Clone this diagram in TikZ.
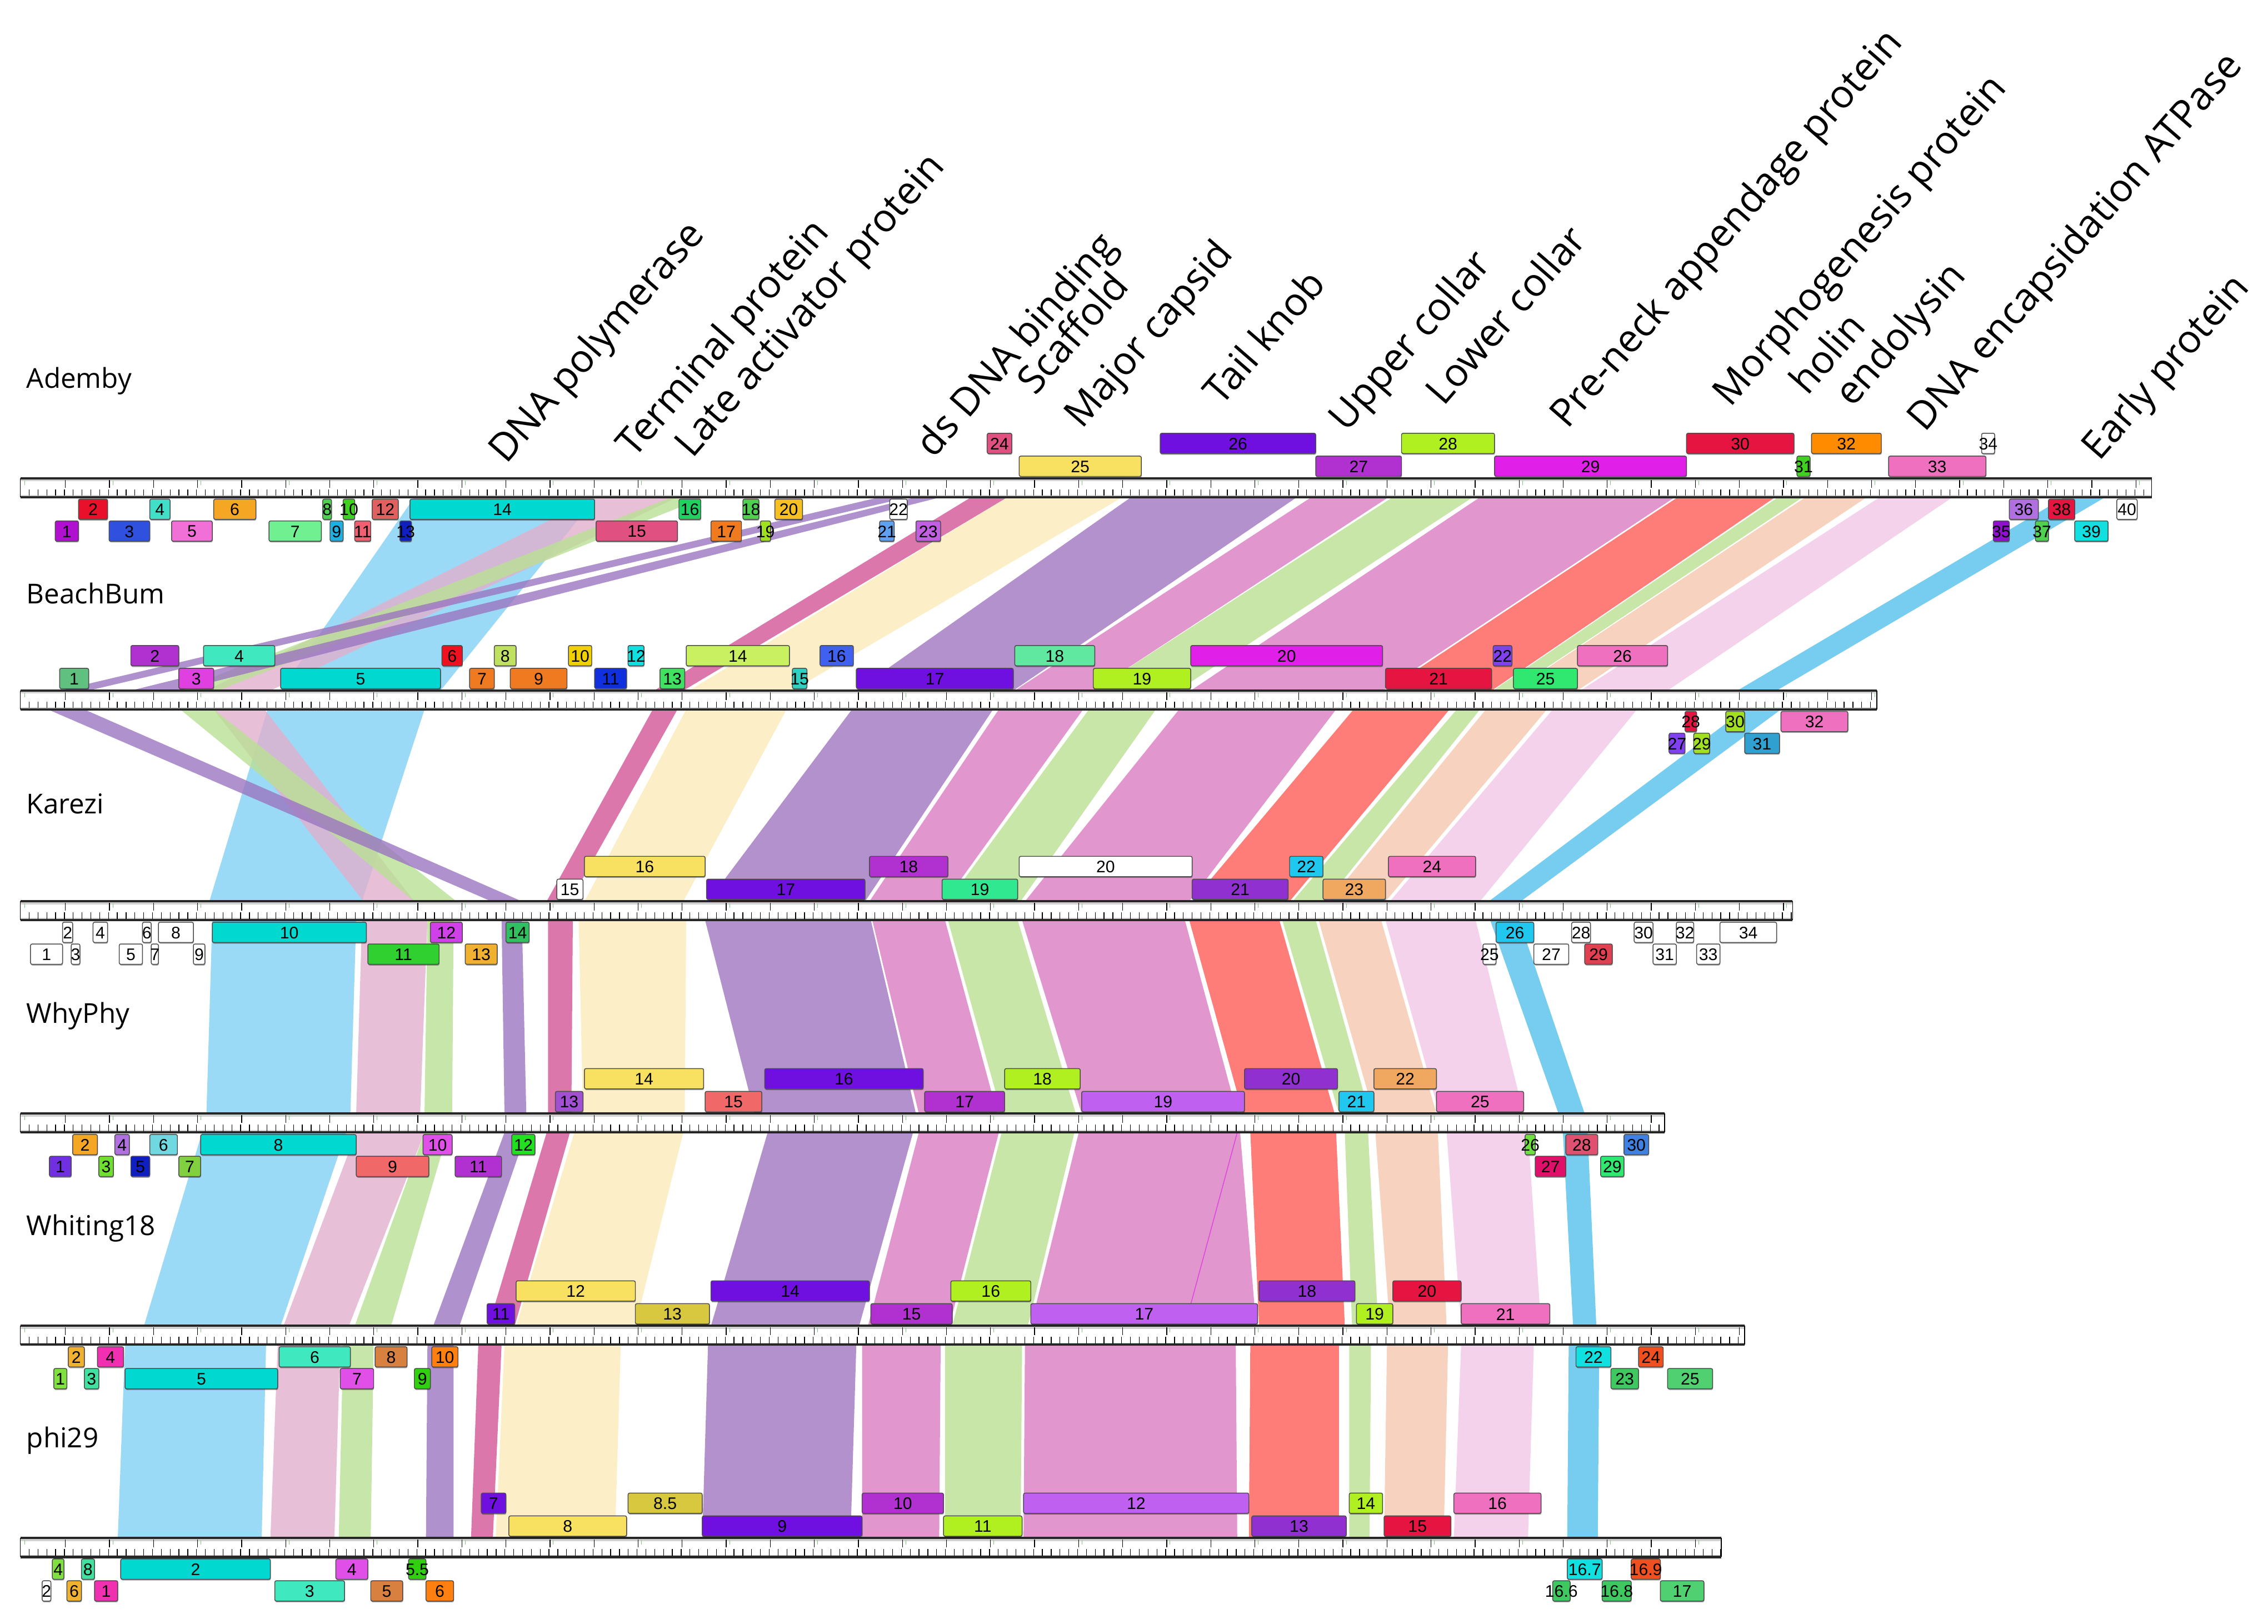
\documentclass[tikz,border=0pt]{standalone}
\usepackage{fontspec}
\usetikzlibrary{shadows}
\setmainfont{Open Sans}
\newfontfamily\numfont{Liberation Sans}
\definecolor{gRed}{HTML}{E8102A}\definecolor{gCrim}{HTML}{E51440}
\definecolor{gTurq}{HTML}{40E0C8}\definecolor{gAqua}{HTML}{40E8C0}
\definecolor{gOrange}{HTML}{F5A623}\definecolor{gOrg2}{HTML}{F07A20}
\definecolor{gOrg3}{HTML}{FF8010}\definecolor{gOrg4}{HTML}{FF8C00}
\definecolor{gGreen}{HTML}{50D050}\definecolor{gGreen2}{HTML}{40D020}
\definecolor{gGreen3}{HTML}{20D060}\definecolor{gLime}{HTML}{B0F020}
\definecolor{gLime2}{HTML}{A0E020}\definecolor{gLimeL}{HTML}{C8F060}
\definecolor{gMint}{HTML}{60E8A0}\definecolor{gMintG}{HTML}{30E890}
\definecolor{gSalmon}{HTML}{E06060}\definecolor{gSalmonW}{HTML}{F06868}
\definecolor{gCyan}{HTML}{00D8D0}\definecolor{gCyanB}{HTML}{10E0E0}
\definecolor{gCyanW}{HTML}{70D8E0}\definecolor{gPink}{HTML}{F070C0}
\definecolor{gPinkL}{HTML}{F070D8}\definecolor{gPinkRed}{HTML}{E05080}
\definecolor{gPinkW}{HTML}{E05070}\definecolor{gDPink}{HTML}{E0106A}
\definecolor{gMagP}{HTML}{F030B0}\definecolor{gYellow}{HTML}{F8E060}
\definecolor{gGold}{HTML}{F5C020}\definecolor{gGoldY}{HTML}{F0D000}
\definecolor{gGoldO}{HTML}{F0B030}\definecolor{gViolet}{HTML}{7010E0}
\definecolor{gVio2}{HTML}{8040F0}\definecolor{gVioW}{HTML}{7030E0}
\definecolor{gPurple}{HTML}{B030D0}\definecolor{gPurple2}{HTML}{9030D0}
\definecolor{gPurM}{HTML}{B010D0}\definecolor{gPurM2}{HTML}{9010D0}
\definecolor{gPurW}{HTML}{A050D0}\definecolor{gMagenta}{HTML}{E020E8}
\definecolor{gMagL}{HTML}{E040E0}\definecolor{gMagD}{HTML}{D040E8}
\definecolor{gMagW}{HTML}{E050E8}\definecolor{gLilac}{HTML}{C060F0}
\definecolor{gLav}{HTML}{B070E0}\definecolor{gLav2}{HTML}{C060E0}
\definecolor{gBlue}{HTML}{3050E0}\definecolor{gBlueM}{HTML}{4060F0}
\definecolor{gBlueD}{HTML}{1030E0}\definecolor{gDBlue}{HTML}{1020C0}
\definecolor{gBlueW}{HTML}{4080E0}\definecolor{gSky}{HTML}{20C8F0}
\definecolor{gSkyB}{HTML}{20B0E0}\definecolor{gLBlue}{HTML}{60A0F0}
\definecolor{gSteel}{HTML}{30A0D0}\definecolor{gOlive}{HTML}{D8C840}
\definecolor{gOliveG}{HTML}{C0E060}\definecolor{gTan}{HTML}{D88040}
\definecolor{gPeachOr}{HTML}{F0A860}\definecolor{gLGreen}{HTML}{70F090}
\definecolor{gGreenS}{HTML}{60C080}\definecolor{gGreenL}{HTML}{40E060}
\definecolor{gGreenM}{HTML}{30E870}\definecolor{gGreenK}{HTML}{30C060}
\definecolor{gGreenK2}{HTML}{30D030}\definecolor{gGreenW}{HTML}{20E020}
\definecolor{gGreenW2}{HTML}{70E040}\definecolor{gGreenW3}{HTML}{70E030}
\definecolor{gGreenW4}{HTML}{80D040}\definecolor{gGreenH}{HTML}{30D010}
\definecolor{gGreenH2}{HTML}{40C860}\definecolor{gGreenH3}{HTML}{50D070}
\definecolor{gLimeH}{HTML}{80E040}\definecolor{gAquaH}{HTML}{40E0A0}
\definecolor{gRedB}{HTML}{F01020}\definecolor{gRedK}{HTML}{E04050}
\definecolor{gSalmon2}{HTML}{F06070}\definecolor{gTurq2}{HTML}{30D0C0}
\definecolor{gOrRed}{HTML}{F05020}
% band colours
\definecolor{cBlue}{HTML}{82D1F4}\definecolor{cTerm}{HTML}{E2B0CE}
\definecolor{cLate}{HTML}{BAE095}\definecolor{cDs}{HTML}{9B76C1}
\definecolor{cScaf}{HTML}{D35695}\definecolor{cCaps}{HTML}{FCECBA}
\definecolor{cTail}{HTML}{A176C1}\definecolor{cUp}{HTML}{DA7CC1}
\definecolor{cLow}{HTML}{BAE093}\definecolor{cPre}{HTML}{DA7CC1}
\definecolor{cMorph}{HTML}{FF5D57}\definecolor{cHol}{HTML}{BAE093}
\definecolor{cEndo}{HTML}{F6C7AE}\definecolor{cAtp}{HTML}{F2C7E6}
\definecolor{cEarly}{HTML}{56C1EC}
\tikzset{
  genebox/.style={draw=black!70, line width=0.4pt, rounded corners=0.8pt,
    drop shadow={shadow xshift=0.2pt, shadow yshift=-0.6pt, fill=black, opacity=0.35}},
  genelabel/.style={font=\numfont\fontsize{8.2}{9}\selectfont, inner sep=0pt, text=black},
  bandop/.style={fill opacity=0.8},
  rtick/.style={line width=0.35pt, black},
  gtick/.style={line width=0.3pt, green!55!black!50},
  toplabel/.style={anchor=base west, rotate=49, font=\fontsize{19}{23}\selectfont, inner sep=0pt},
  gname/.style={anchor=west, font=\fontsize{13.4}{16}\selectfont, inner sep=0pt},
}
\def\Utwo{(-31)}\def\Uone{(-15.3)}\def\Lone{(14.3)}\def\Ltwo{(29.3)}
\newcommand\gbox[6]{%
  \filldraw[genebox,fill=#5] (#2,{\Rt+#4}) rectangle (#3,{\Rt+#4+14});
  \node[genelabel] (#1) at ({(#2+#3)/2},{\Rt+#4+7.3}) {#6};}
\newcommand\band[5]{\fill[#1,bandop] (#2,\ya) -- (#3,\ya) -- (#5,\yb) -- (#4,\yb) -- cycle;}
\newcommand\gruler[2]{%
  \fill[white] (14,#1) rectangle (#2,{#1+13});
  \fill[black!18] (14,{#1+0.5}) rectangle (#2,{#1+2});
  \fill[black!18] (14,{#1+11.5}) rectangle (#2,{#1+12.5});
  \foreach \x in {14,20.06,...,#2} {\draw[rtick] (\x,{#1+7.5}) -- (\x,{#1+12});}
  \foreach \x in {45,75.3,...,#2} {\draw[rtick] (\x,{#1+1}) -- (\x,{#1+6.5});}
  \foreach \x in {17,77.6,...,#2} {\draw[gtick] (\x,{#1+1.5}) -- (\x,{#1+4.5});}
  \draw[line width=1.1pt, black!85] (14,#1) -- (#2,#1);
  \draw[line width=1.1pt, black!85] (14,{#1+13}) -- (#2,{#1+13});
  \draw[line width=0.4pt] (14,#1) -- (14,{#1+13});
  \draw[line width=0.4pt] (#2,#1) -- (#2,{#1+13});}
\begin{document}
\begin{tikzpicture}[x=0.025cm,y=-0.025cm]
\useasboundingbox (0,0) rectangle (1560,1116.7);
\fill[white] (0,0) rectangle (1560,1116.7);
% ---------------- bands: Ademby -> BeachBum
\def\ya{342}\def\yb{475}
\band{cBlue}{285}{410}{193}{303}
\band{cTerm}{410}{466}{142}{186}
\band{cLate}{462}{485}{123}{150}
\band{cDs}{605}{625}{41}{61}
\band{cDs}{630}{647}{90}{123}
\band{cScaf}{668}{693}{450}{470}
\band{cCaps}{693}{772}{474}{545}
\band{cTail}{778}{892}{589}{697}
\band{cUp}{902}{955}{698}{752}
\band{cLow}{958}{1013}{752}{810}
\band{cPre}{1018}{1152}{819}{951}
\band{cMorph}{1154}{1221}{953}{1026}
\band{cHol}{1223}{1240}{1027}{1040}
\band{cEndo}{1242}{1284}{1041}{1085}
\band{cAtp}{1293}{1343}{1087}{1147}
\band{cEarly}{1420}{1448}{1195}{1222}
% ---------------- BeachBum -> Karezi
\def\ya{488}\def\yb{620}
\band{cBlue}{184}{292}{144}{249}
\band{cTerm}{147}{182}{250}{285}
\band{cLate}{124}{147}{285}{314}
\band{cDs}{33}{58}{338}{359}
\band{cScaf}{449}{466}{376}{392}
\band{cCaps}{472}{541}{402}{470}
\band{cTail}{586}{683}{487}{595}
\band{cUp}{687}{745}{598}{650}
\band{cLow}{749}{795}{652}{702}
\band{cPre}{811}{919}{705}{818}
\band{cMorph}{931}{997}{820}{887}
\band{cHol}{1002}{1018}{889}{912}
\band{cEndo}{1022}{1064}{914}{953}
\band{cAtp}{1068}{1126}{956}{1018}
\band{cEarly}{1200}{1225}{1024}{1046}
% ---------------- Karezi -> WhyPhy
\def\ya{633}\def\yb{766}
\band{cBlue}{146}{245}{142}{241}
\band{cTerm}{249}{294}{245}{289}
\band{cLate}{294}{312}{292}{311}
\band{cDs}{345}{359}{347}{362}
\band{cScaf}{377}{394}{377}{393}
\band{cCaps}{398}{472}{401}{471}
\band{cTail}{485}{599}{519}{630}
\band{cUp}{600}{650}{632}{686}
\band{cLow}{652}{700}{689}{740}
\band{cPre}{703}{815}{744}{851}
\band{cMorph}{818}{880}{855}{918}
\band{cHol}{882}{905}{921}{942}
\band{cEndo}{907}{950}{945}{988}
\band{cAtp}{953}{1015}{990}{1048}
\band{cEarly}{1025}{1045}{1072}{1090}
% ---------------- WhyPhy -> Whiting18
\def\ya{779}\def\yb{912}
\band{cBlue}{139}{238}{99}{193}
\band{cTerm}{245}{292}{195}{240}
\band{cLate}{292}{308}{244}{269}
\band{cDs}{347}{362}{298}{316}
\band{cScaf}{376}{392}{336}{354}
\band{cCaps}{395}{470}{355}{437}
\band{cTail}{528}{628}{489}{591}
\band{cUp}{632}{687}{597}{653}
\band{cLow}{689}{739}{655}{707}
\band{cPre}{742}{853}{709}{864}
\band{cMorph}{860}{919}{866}{925}
\band{cHol}{925}{941}{930}{948}
\band{cEndo}{946}{989}{956}{995}
\band{cAtp}{995}{1051}{1005}{1060}
\band{cEarly}{1075}{1092}{1082}{1098}
\draw[gMagenta, line width=0.4pt, opacity=0.7] (851,779) -- (815,912);
% ---------------- Whiting18 -> phi29
\def\ya{925}\def\yb{1058}
\band{cBlue}{86}{183}{81}{180}
\band{cTerm}{191}{234}{186}{230}
\band{cLate}{236}{257}{233}{255}
\band{cDs}{294}{312}{293}{312}
\band{cScaf}{329}{345}{324}{339}
\band{cCaps}{347}{427}{341}{423}
\band{cTail}{487}{589}{483}{585}
\band{cUp}{593}{647}{593}{646}
\band{cLow}{650}{703}{650}{702}
\band{cPre}{705}{850}{704}{851}
\band{cMorph}{860}{921}{859}{921}
\band{cHol}{928}{943}{928}{942}
\band{cEndo}{954}{996}{952}{993}
\band{cAtp}{1005}{1055}{1000}{1051}
\band{cEarly}{1079}{1100}{1078}{1099}
% ---------------- rulers
\gruler{329}{1480}
\gruler{475}{1291}
\gruler{620}{1233}
\gruler{766}{1145}
\gruler{912}{1200}
\gruler{1058}{1184}
% ---------------- genome names
\node[gname] (nA) at (18,262) {Ademby};
\node[gname] (nB) at (18,408) {BeachBum};
\node[gname] (nK) at (18,553) {Karezi};
\node[gname] (nW) at (18,699) {WhyPhy};
\node[gname] (nH) at (18,845) {Whiting18};
\node[gname] (nP) at (18,991) {phi29};
% ---------------- Ademby genes
\def\Rt{329}
\gbox{A1}{38}{54}{\Ltwo}{gPurM}{1}
\gbox{A3}{75}{103}{\Ltwo}{gBlue}{3}
\gbox{A5}{118}{146}{\Ltwo}{gPinkL}{5}
\gbox{A7}{185}{221}{\Ltwo}{gLGreen}{7}
\gbox{A9}{227}{236}{\Ltwo}{gSkyB}{9}
\gbox{A11}{244}{255}{\Ltwo}{gSalmon2}{11}
\gbox{A13}{275}{283}{\Ltwo}{gDBlue}{13}
\gbox{A15}{410}{466}{\Ltwo}{gPinkRed}{15}
\gbox{A17}{489}{510}{\Ltwo}{gOrg2}{17}
\gbox{A19}{523}{530}{\Ltwo}{gLime2}{19}
\gbox{A21}{605}{615}{\Ltwo}{gLBlue}{21}
\gbox{A23}{630}{647}{\Ltwo}{gLav2}{23}
\gbox{A35}{1371}{1382}{\Ltwo}{gPurM2}{35}
\gbox{A37}{1400}{1409}{\Ltwo}{gGreen}{37}
\gbox{A39}{1427}{1450}{\Ltwo}{gCyanB}{39}
\gbox{A2}{54}{74}{\Lone}{gRed}{2}
\gbox{A4}{103}{117}{\Lone}{gTurq}{4}
\gbox{A6}{147}{176}{\Lone}{gOrange}{6}
\gbox{A8}{222}{228}{\Lone}{gGreen}{8}
\gbox{A10}{236}{244}{\Lone}{gGreen2}{10}
\gbox{A12}{256}{274}{\Lone}{gSalmon}{12}
\gbox{A14}{282}{409}{\Lone}{gCyan}{14}
\gbox{A16}{467}{482}{\Lone}{gGreen3}{16}
\gbox{A18}{511}{522}{\Lone}{gGreen}{18}
\gbox{A20}{533}{552}{\Lone}{gGold}{20}
\gbox{A22}{612}{624}{\Lone}{white}{22}
\gbox{A36}{1382}{1402}{\Lone}{gLav}{36}
\gbox{A38}{1409}{1427}{\Lone}{gCrim}{38}
\gbox{A40}{1456}{1470}{\Lone}{white}{40}
\gbox{A24}{679}{696}{\Utwo}{gPinkRed}{24}
\gbox{A26}{798}{905}{\Utwo}{gViolet}{26}
\gbox{A28}{964}{1028}{\Utwo}{gLime}{28}
\gbox{A30}{1160}{1234}{\Utwo}{gCrim}{30}
\gbox{A32}{1246}{1294}{\Utwo}{gOrg4}{32}
\gbox{A34}{1363}{1372}{\Utwo}{white}{34}
\gbox{A25}{701}{785}{\Uone}{gYellow}{25}
\gbox{A27}{905}{964}{\Uone}{gPurple}{27}
\gbox{A29}{1028}{1160}{\Uone}{gMagenta}{29}
\gbox{A31}{1236}{1245}{\Uone}{gGreen2}{31}
\gbox{A33}{1299}{1366}{\Uone}{gPink}{33}
% ---------------- BeachBum genes
\def\Rt{475}
\gbox{B2}{90}{123}{\Utwo}{gPurple}{2}
\gbox{B4}{140}{189}{\Utwo}{gAqua}{4}
\gbox{B6}{304}{318}{\Utwo}{gRedB}{6}
\gbox{B8}{340}{355}{\Utwo}{gOliveG}{8}
\gbox{B10}{391}{407}{\Utwo}{gGoldY}{10}
\gbox{B12}{432}{443}{\Utwo}{gCyanB}{12}
\gbox{B14}{472}{543}{\Utwo}{gLimeL}{14}
\gbox{B16}{564}{587}{\Utwo}{gBlueM}{16}
\gbox{B18}{698}{753}{\Utwo}{gMint}{18}
\gbox{B20}{819}{951}{\Utwo}{gMagenta}{20}
\gbox{B22}{1027}{1040}{\Utwo}{gVio2}{22}
\gbox{B26}{1085}{1147}{\Utwo}{gPink}{26}
\gbox{B1}{41}{61}{\Uone}{gGreenS}{1}
\gbox{B3}{123}{147}{\Uone}{gMagL}{3}
\gbox{B5}{193}{303}{\Uone}{gCyan}{5}
\gbox{B7}{323}{340}{\Uone}{gOrg2}{7}
\gbox{B9}{351}{390}{\Uone}{gOrg2}{9}
\gbox{B11}{409}{431}{\Uone}{gBlueD}{11}
\gbox{B13}{454}{471}{\Uone}{gGreenL}{13}
\gbox{B15}{545}{555}{\Uone}{gTurq2}{15}
\gbox{B17}{589}{697}{\Uone}{gViolet}{17}
\gbox{B19}{752}{819}{\Uone}{gLime}{19}
\gbox{B21}{953}{1026}{\Uone}{gCrim}{21}
\gbox{B25}{1041}{1085}{\Uone}{gGreenM}{25}
\gbox{B28}{1159}{1167}{\Lone}{gCrim}{28}
\gbox{B30}{1187}{1200}{\Lone}{gLime2}{30}
\gbox{B32}{1225}{1271}{\Lone}{gPink}{32}
\gbox{B27}{1148}{1159}{\Ltwo}{gVio2}{27}
\gbox{B29}{1165}{1176}{\Ltwo}{gLime2}{29}
\gbox{B31}{1200}{1224}{\Ltwo}{gSteel}{31}
% ---------------- Karezi genes
\def\Rt{620}
\gbox{K16}{402}{485}{\Utwo}{gYellow}{16}
\gbox{K18}{598}{652}{\Utwo}{gPurple}{18}
\gbox{K20}{701}{820}{\Utwo}{white}{20}
\gbox{K22}{887}{910}{\Utwo}{gSky}{22}
\gbox{K24}{955}{1015}{\Utwo}{gPink}{24}
\gbox{K15}{383}{401}{\Uone}{white}{15}
\gbox{K17}{486}{595}{\Uone}{gViolet}{17}
\gbox{K19}{648}{700}{\Uone}{gMintG}{19}
\gbox{K21}{820}{886}{\Uone}{gPurple2}{21}
\gbox{K23}{910}{953}{\Uone}{gPeachOr}{23}
\gbox{K2}{43}{50}{\Lone}{white}{2}
\gbox{K4}{64}{74}{\Lone}{white}{4}
\gbox{K6}{98}{104}{\Lone}{white}{6}
\gbox{K8}{109}{133}{\Lone}{white}{8}
\gbox{K10}{146}{252}{\Lone}{gCyan}{10}
\gbox{K12}{296}{318}{\Lone}{gMagD}{12}
\gbox{K14}{348}{364}{\Lone}{gGreenK}{14}
\gbox{K26}{1029}{1055}{\Lone}{gSky}{26}
\gbox{K28}{1081}{1094}{\Lone}{white}{28}
\gbox{K30}{1124}{1137}{\Lone}{white}{30}
\gbox{K32}{1153}{1165}{\Lone}{white}{32}
\gbox{K34}{1183}{1222}{\Lone}{white}{34}
\gbox{K1}{21}{43}{\Ltwo}{white}{1}
\gbox{K3}{49}{55}{\Ltwo}{white}{3}
\gbox{K5}{82}{98}{\Ltwo}{white}{5}
\gbox{K7}{104}{109}{\Ltwo}{white}{7}
\gbox{K9}{133}{141}{\Ltwo}{white}{9}
\gbox{K11}{253}{302}{\Ltwo}{gGreenK2}{11}
\gbox{K13}{320}{342}{\Ltwo}{gGoldO}{13}
\gbox{K25}{1020}{1029}{\Ltwo}{white}{25}
\gbox{K27}{1055}{1079}{\Ltwo}{white}{27}
\gbox{K29}{1090}{1109}{\Ltwo}{gRedK}{29}
\gbox{K31}{1137}{1153}{\Ltwo}{white}{31}
\gbox{K33}{1167}{1183}{\Ltwo}{white}{33}
% ---------------- WhyPhy genes
\def\Rt{766}
\gbox{W14}{402}{484}{\Utwo}{gYellow}{14}
\gbox{W16}{526}{635}{\Utwo}{gViolet}{16}
\gbox{W18}{691}{743}{\Utwo}{gLime}{18}
\gbox{W20}{856}{920}{\Utwo}{gPurple2}{20}
\gbox{W22}{945}{988}{\Utwo}{gPeachOr}{22}
\gbox{W13}{382}{401}{\Uone}{gPurW}{13}
\gbox{W15}{485}{524}{\Uone}{gSalmonW}{15}
\gbox{W17}{636}{691}{\Uone}{gPurple}{17}
\gbox{W19}{744}{856}{\Uone}{gLilac}{19}
\gbox{W21}{921}{945}{\Uone}{gSky}{21}
\gbox{W25}{988}{1048}{\Uone}{gPink}{25}
\gbox{W2}{50}{67}{\Lone}{gOrange}{2}
\gbox{W4}{79}{89}{\Lone}{gLav}{4}
\gbox{W6}{103}{122}{\Lone}{gCyanW}{6}
\gbox{W8}{138}{245}{\Lone}{gCyan}{8}
\gbox{W10}{291}{311}{\Lone}{gMagW}{10}
\gbox{W12}{352}{368}{\Lone}{gGreenW}{12}
\gbox{W26}{1049}{1056}{\Lone}{gGreenW2}{26}
\gbox{W28}{1077}{1099}{\Lone}{gPinkW}{28}
\gbox{W30}{1117}{1134}{\Lone}{gBlueW}{30}
\gbox{W1}{34}{49}{\Ltwo}{gVioW}{1}
\gbox{W3}{68}{78}{\Ltwo}{gGreenW3}{3}
\gbox{W5}{90}{103}{\Ltwo}{gDBlue}{5}
\gbox{W7}{123}{138}{\Ltwo}{gGreenW4}{7}
\gbox{W9}{245}{295}{\Ltwo}{gSalmonW}{9}
\gbox{W11}{313}{345}{\Ltwo}{gPurple}{11}
\gbox{W27}{1056}{1077}{\Ltwo}{gDPink}{27}
\gbox{W29}{1101}{1117}{\Ltwo}{gGreenM}{29}
% ---------------- Whiting18 genes
\def\Rt{912}
\gbox{H12}{355}{437}{\Utwo}{gYellow}{12}
\gbox{H14}{489}{598}{\Utwo}{gViolet}{14}
\gbox{H16}{654}{709}{\Utwo}{gLime}{16}
\gbox{H18}{866}{932}{\Utwo}{gPurple2}{18}
\gbox{H20}{958}{1005}{\Utwo}{gCrim}{20}
\gbox{H11}{335}{354}{\Uone}{gViolet}{11}
\gbox{H13}{437}{488}{\Uone}{gOlive}{13}
\gbox{H15}{599}{655}{\Uone}{gPurple}{15}
\gbox{H17}{709}{865}{\Uone}{gLilac}{17}
\gbox{H19}{933}{958}{\Uone}{gLime}{19}
\gbox{H21}{1005}{1066}{\Uone}{gPink}{21}
\gbox{H2}{47}{58}{\Lone}{gGoldO}{2}
\gbox{H4}{67}{85}{\Lone}{gMagP}{4}
\gbox{H6}{192}{241}{\Lone}{gAqua}{6}
\gbox{H8}{258}{280}{\Lone}{gTan}{8}
\gbox{H10}{297}{315}{\Lone}{gOrg3}{10}
\gbox{H22}{1084}{1108}{\Lone}{gCyanB}{22}
\gbox{H24}{1127}{1144}{\Lone}{gOrRed}{24}
\gbox{H1}{37}{46}{\Ltwo}{gLimeH}{1}
\gbox{H3}{58}{68}{\Ltwo}{gAquaH}{3}
\gbox{H5}{86}{191}{\Ltwo}{gCyan}{5}
\gbox{H7}{234}{257}{\Ltwo}{gMagW}{7}
\gbox{H9}{285}{296}{\Ltwo}{gGreenH}{9}
\gbox{H23}{1108}{1127}{\Ltwo}{gGreenH2}{23}
\gbox{H25}{1147}{1178}{\Ltwo}{gGreenH3}{25}
% ---------------- phi29 genes
\def\Rt{1058}
\gbox{P7}{331}{348}{\Utwo}{gViolet}{7}
\gbox{P8x5}{432}{483}{\Utwo}{gOlive}{8.5}
\gbox{P10}{593}{649}{\Utwo}{gPurple}{10}
\gbox{P12}{704}{859}{\Utwo}{gLilac}{12}
\gbox{P14}{928}{951}{\Utwo}{gLime}{14}
\gbox{P16}{1000}{1060}{\Utwo}{gPink}{16}
\gbox{P8}{350}{431}{\Uone}{gYellow}{8}
\gbox{P9}{483}{593}{\Uone}{gViolet}{9}
\gbox{P11}{649}{703}{\Uone}{gLime}{11}
\gbox{P13}{861}{926}{\Uone}{gPurple2}{13}
\gbox{P15}{952}{998}{\Uone}{gCrim}{15}
\gbox{P4a}{36}{44}{\Lone}{gLimeH}{4}
\gbox{P8a}{56}{65}{\Lone}{gAquaH}{8}
\gbox{P2}{83}{186}{\Lone}{gCyan}{2}
\gbox{P4}{231}{253}{\Lone}{gMagW}{4}
\gbox{P5x5}{281}{293}{\Lone}{gGreenH}{5.5}
\gbox{P16x7}{1078}{1102}{\Lone}{gCyanB}{16.7}
\gbox{P16x9}{1122}{1142}{\Lone}{gOrRed}{16.9}
\gbox{P2a}{29}{35}{\Ltwo}{white}{2}
\gbox{P6a}{46}{56}{\Ltwo}{gGoldO}{6}
\gbox{P1}{65}{81}{\Ltwo}{gMagP}{1}
\gbox{P3}{189}{237}{\Ltwo}{gAqua}{3}
\gbox{P5}{255}{277}{\Ltwo}{gTan}{5}
\gbox{P6}{293}{312}{\Ltwo}{gOrg3}{6}
\gbox{P16x6}{1068}{1080}{\Ltwo}{gGreenH2}{16.6}
\gbox{P16x8}{1102}{1122}{\Ltwo}{gGreenH2}{16.8}
\gbox{P17}{1142}{1172}{\Ltwo}{gGreenH3}{17}
% ---------------- functional labels
\node[toplabel] (L1) at (348,320) {DNA polymerase};
\node[toplabel] (L2) at (436,316) {Terminal protein};
\node[toplabel] (L3) at (476,316) {Late activator protein};
\node[toplabel] (L4) at (642,316) {ds DNA binding};
\node[toplabel] (L5) at (712,273) {Scaffold};
\node[toplabel] (L6) at (744,296) {Major capsid};
\node[toplabel] (L7) at (840,280) {Tail knob};
\node[toplabel] (L8) at (926,298) {Upper collar};
\node[toplabel] (L9) at (993,280) {Lower collar};
\node[toplabel] (L10) at (1078,296) {Pre-neck appendage protein};
\node[toplabel] (L11) at (1190,281) {Morphogenesis protein};
\node[toplabel] (L12) at (1243,273) {holin};
\node[toplabel] (L13) at (1274,281) {endolysin};
\node[toplabel] (L14) at (1324,298) {DNA encapsidation ATPase};
\node[toplabel] (L15) at (1444,318) {Early protein};
\end{tikzpicture}
\end{document}
